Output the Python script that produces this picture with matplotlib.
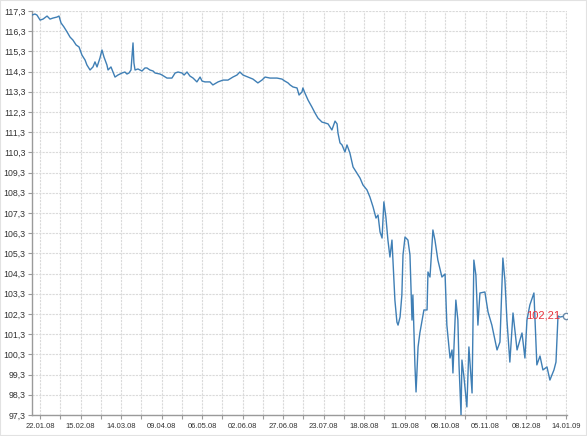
import matplotlib
matplotlib.use("Agg")
import matplotlib.pyplot as plt
from matplotlib.patches import Rectangle

# trading-session index (position along category axis) and price
day = [0, 1.3, 2.2, 3.6, 4.9, 6.7, 8.0, 9.3, 11.1, 12.0, 12.9, 14.2, 15.6, 16.9, 18.2,
       19.6, 20.9, 22.2, 23.6, 24.4, 25.8, 27.1, 28.0, 28.9, 30.2, 31.1, 32.0, 33.3, 33.8,
       35.1, 36.0, 36.9, 38.2, 40.0, 41.3, 42.2, 43.1, 44.0, 44.9, 45.3, 45.8, 47.1, 48.9,
       50.2, 51.1, 52.4, 53.8, 54.7, 56.9, 57.8, 60.0, 62.2, 63.6, 64.9, 66.7, 67.6, 68.9,
       70.2, 71.6, 73.3, 74.7, 75.6, 76.9, 79.1, 80.4, 82.7, 84.9, 87.1, 89.3, 91.1, 92.4,
       93.8, 96.0, 98.2, 100.4, 102.2, 103.6, 105.8, 108.9, 111.1, 112.4, 113.8, 114.7,
       116.0, 117.8, 118.7, 120.0, 120.4, 121.3, 122.7, 124.4, 125.8, 127.1, 128.9, 130.2,
       131.6, 133.3, 134.7, 135.6, 136.0, 136.9, 137.8, 139.1, 140.0, 141.3, 142.7, 144.4,
       145.8, 147.1, 148.9, 150.2, 151.6, 152.9, 153.8, 154.7, 155.6, 156.4, 157.3, 158.2,
       159.1, 160.0, 160.4, 161.3, 162.2, 162.7, 163.6, 164.4, 164.9, 165.8, 167.1, 168.0,
       168.9, 169.3, 170.2, 170.7, 171.6, 172.4, 174.2, 175.6, 176.0, 176.9, 178.2, 179.1,
       180.4, 182.2, 183.6, 184.4, 185.8, 186.7, 187.1, 188.4, 189.3, 189.8, 190.7, 191.1,
       192.0, 193.3, 194.2, 195.6, 196.4, 197.3, 198.2, 199.1, 201.3, 202.7, 204.4, 206.7,
       208.0, 209.3, 210.2, 211.1, 212.4, 213.8, 215.6, 217.8, 219.1, 220.0, 221.3, 223.1,
       224.4, 225.8, 227.1, 228.9, 230.2, 232.0, 232.9, 233.8, 234.7, 237.3]

price = [117.10, 117.15, 117.10, 116.85, 116.90, 117.05, 116.90, 116.95, 117.00, 117.05,
         116.71, 116.51, 116.26, 116.01, 115.86, 115.62, 115.52, 115.12, 114.87, 114.63,
         114.38, 114.53, 114.78, 114.53, 114.97, 115.37, 115.02, 114.63, 114.38, 114.53,
         114.28, 114.03, 114.13, 114.23, 114.28, 114.18, 114.23, 114.38, 115.72, 114.73,
         114.38, 114.43, 114.33, 114.48, 114.48, 114.38, 114.33, 114.23, 114.18, 114.13,
         113.98, 113.98, 114.23, 114.28, 114.23, 114.13, 114.28, 114.08, 113.98, 113.79,
         114.03, 113.83, 113.79, 113.79, 113.64, 113.79, 113.88, 113.88, 114.03, 114.13,
         114.28, 114.13, 114.03, 113.93, 113.74, 113.88, 114.03, 113.98, 113.98, 113.93,
         113.83, 113.74, 113.64, 113.54, 113.49, 113.14, 113.29, 113.49, 113.24, 112.89,
         112.55, 112.25, 112.00, 111.80, 111.76, 111.71, 111.41, 111.85, 111.71, 111.26,
         110.77, 110.67, 110.32, 110.67, 110.27, 109.58, 109.28, 109.03, 108.69, 108.44,
         108.09, 107.60, 107.05, 107.20, 106.36, 106.06, 107.85, 107.10, 105.96, 105.12,
         105.96, 105.07, 102.99, 101.90, 101.75, 102.15, 103.24, 105.22, 106.11, 105.96,
         105.22, 102.00, 103.24, 99.78, 98.44, 100.67, 101.36, 102.50, 102.50, 104.38,
         104.13, 106.46, 105.96, 104.97, 104.13, 104.28, 101.75, 100.12, 100.52, 99.38,
         102.99, 102.00, 99.78, 97.30, 100.02, 99.18, 97.70, 100.67, 98.39, 104.97,
         104.23, 101.75, 103.34, 103.39, 102.40, 101.75, 100.52, 100.91, 105.07, 103.98,
         102.00, 99.92, 102.35, 100.52, 101.36, 100.12, 102.00, 102.75, 103.34, 99.78,
         100.22, 99.53, 99.68, 99.03, 99.53, 99.92, 102.20, 102.15, 102.21]

label_days = [3.6, 21.6, 39.6, 57.6, 75.6, 93.6, 111.6, 129.6, 147.6, 165.6, 183.6,
              201.6, 219.6, 237.3]
date_labels = ["22.01.08", "15.02.08", "14.03.08", "09.04.08", "06.05.08", "02.06.08",
               "27.06.08", "23.07.08", "18.08.08", "11.09.08", "08.10.08", "05.11.08",
               "08.12.08", "14.01.09"]
y_ticks = [97.3 + i for i in range(21)]
last_value = 102.21

plt.rcParams["font.family"] = ["Liberation Sans", "DejaVu Sans"]

W, H = 587, 436
fig = plt.figure(figsize=(W / 100, H / 100), dpi=100)
fig.patch.set_facecolor("white")
fig.patches.append(Rectangle((0, 0), 1, 1, transform=fig.transFigure, fill=False,
                             edgecolor="#e2e2e2", linewidth=1.5))
ax = fig.add_axes([32 / W, (H - 415) / H, (567 - 32) / W, (415 - 11) / H])
ax.set_facecolor("white")

ax.plot(day, price, color="#3f7fb5", linewidth=1.0, zorder=3)
ax.plot([day[-1]], [price[-1]], marker="o", markersize=4.5, markerfacecolor="white",
        markeredgecolor="#6a8aa8", markeredgewidth=1.0, zorder=4)
ax.text(day[-1] - 2.5, last_value, f"{last_value:.2f}".replace(".", ","), color="#e8323c",
        fontsize=8, ha="right", va="center", zorder=5)

ax.set_xlim(0, 237.8)
ax.set_ylim(97.3, 117.3)

minor = [(a + b) / 2 for a, b in zip(label_days[:-1], label_days[1:])]
ax.set_xticks(label_days)
ax.set_xticklabels(date_labels)
ax.set_xticks(minor, minor=True)
ax.set_yticks(y_ticks)
ax.set_yticklabels([f"{v:.1f}".replace(".", ",") for v in y_ticks])

grid_kw = dict(color="#dadada", linewidth=0.8, linestyle=(0, (2, 1)))
ax.grid(True, which="major", axis="both", **grid_kw)
ax.grid(True, which="minor", axis="x", **grid_kw)
ax.set_axisbelow(True)

for s in ["top", "right"]:
    ax.spines[s].set_visible(False)
for s in ["left", "bottom"]:
    ax.spines[s].set_color("#9a9a9a")
    ax.spines[s].set_linewidth(1.0)

ax.tick_params(axis="both", which="both", direction="out", color="#9a9a9a",
               labelcolor="#333333", length=3, width=0.8)
ax.tick_params(axis="y", labelsize=6.3, pad=1.5)
ax.tick_params(axis="x", labelsize=5.5, pad=2.5)

fig.savefig("out.png", dpi=100, facecolor="white")
